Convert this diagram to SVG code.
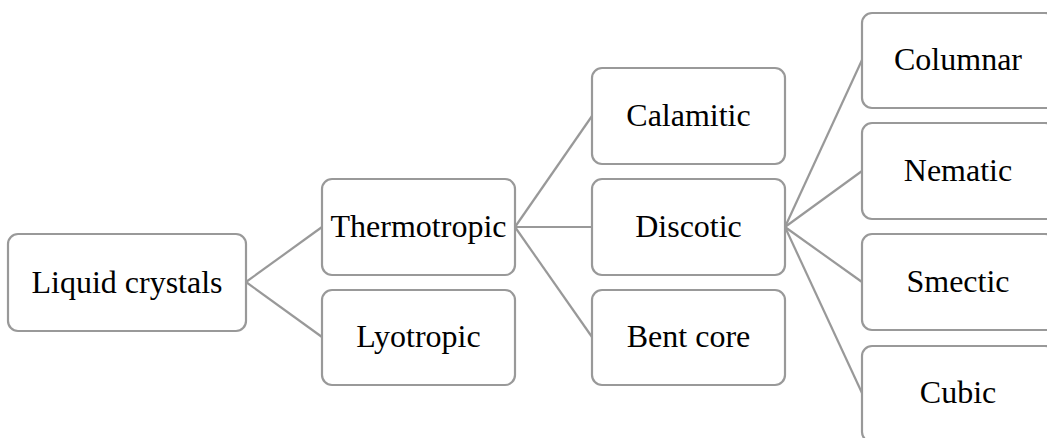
<svg xmlns="http://www.w3.org/2000/svg" width="1047" height="438" viewBox="0 0 1047 438">
<style>
.box{fill:#fff;stroke:#999;stroke-width:2.2}
.lbl{font-family:"Liberation Serif","Times New Roman",serif;font-size:32px;fill:#000;text-anchor:middle}
.con line{stroke:#999;stroke-width:2.2}
</style>
<rect width="1047" height="438" fill="#fff"/>
<g id="connectors" class="con">
<line x1="246" y1="282" x2="322" y2="227"/>
<line x1="246" y1="282" x2="322" y2="337"/>
<line x1="515" y1="227" x2="592" y2="116"/>
<line x1="515" y1="227" x2="592" y2="227"/>
<line x1="515" y1="227" x2="592" y2="337"/>
<line x1="785" y1="227" x2="862" y2="60"/>
<line x1="785" y1="227" x2="862" y2="171"/>
<line x1="785" y1="227" x2="862" y2="282"/>
<line x1="785" y1="227" x2="862" y2="393"/>
</g>
<g id="n-liquid"><rect class="box" x="8" y="234" width="238" height="97" rx="10"/><text class="lbl" x="127" y="293">Liquid crystals</text></g>
<g id="n-thermo"><rect class="box" x="322" y="179" width="193" height="96" rx="10"/><text class="lbl" x="418.5" y="237">Thermotropic</text></g>
<g id="n-lyo"><rect class="box" x="322" y="290" width="193" height="95" rx="10"/><text class="lbl" x="418.5" y="347">Lyotropic</text></g>
<g id="n-calamitic"><rect class="box" x="592" y="68" width="193" height="96" rx="10"/><text class="lbl" x="688.5" y="126">Calamitic</text></g>
<g id="n-discotic"><rect class="box" x="592" y="179" width="193" height="96" rx="10"/><text class="lbl" x="688.5" y="237">Discotic</text></g>
<g id="n-bent"><rect class="box" x="592" y="290" width="193" height="95" rx="10"/><text class="lbl" x="688.5" y="347">Bent core</text></g>
<g id="n-columnar"><rect class="box" x="862" y="13" width="193" height="95" rx="10"/><text class="lbl" x="958" y="70">Columnar</text></g>
<g id="n-nematic"><rect class="box" x="862" y="123" width="193" height="96" rx="10"/><text class="lbl" x="958" y="181">Nematic</text></g>
<g id="n-smectic"><rect class="box" x="862" y="234" width="193" height="96" rx="10"/><text class="lbl" x="958" y="292">Smectic</text></g>
<g id="n-cubic"><rect class="box" x="862" y="346" width="193" height="96" rx="10"/><text class="lbl" x="958" y="403">Cubic</text></g>
</svg>
